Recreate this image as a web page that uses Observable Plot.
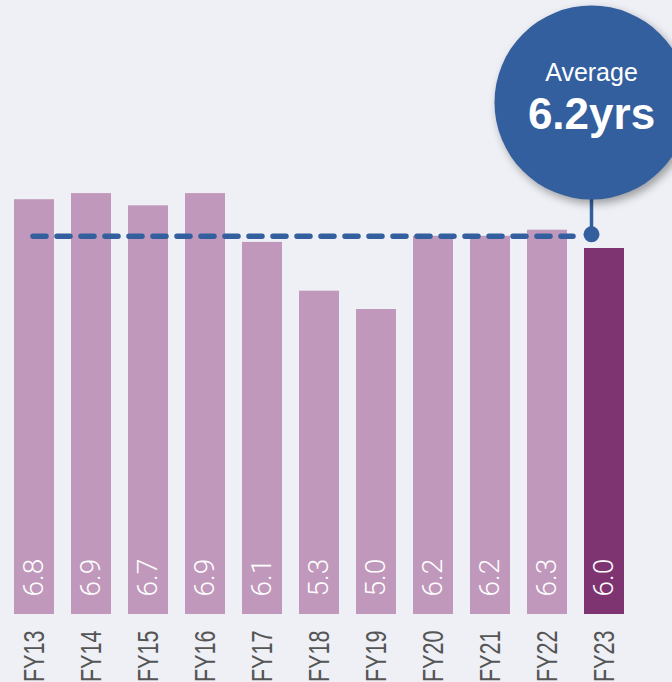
<!DOCTYPE html>
<html>
<head>
<meta charset="utf-8">
<script src="https://cdn.jsdelivr.net/npm/d3@7"></script>
<script src="https://cdn.jsdelivr.net/npm/@observablehq/plot@0.6"></script>
<style>
  html, body { margin: 0; padding: 0; background: #eef0f5; }
  #chart svg { display: block; }
  .avg-bubble circle { filter: drop-shadow(3px 4px 4px rgba(0,0,0,0.35)); }
</style>
</head>
<body>
<div id="chart"></div>
<script>
// ---- data ----
const years = ["FY13","FY14","FY15","FY16","FY17","FY18","FY19","FY20","FY21","FY22","FY23"];
const values = [6.8, 6.9, 6.7, 6.9, 6.1, 5.3, 5.0, 6.2, 6.2, 6.3, 6.0];
const average = 6.2;
const averageLabel = "Average";
const averageValueLabel = "6.2yrs";
const highlightYear = "FY23";

// ---- styles ----
const lightColor = "#bf98bb";
const darkColor = "#7f3472";
const blue = "#335f9e";
const font = "'Liberation Sans', Arial, Helvetica, sans-serif";

const data = years.map((year, i) => ({year, value: values[i]}));

const chart = Plot.plot({
  width: 672,
  height: 682,
  marginLeft: 13,
  marginRight: 48,
  marginTop: 4,
  marginBottom: 68,
  style: {background: "#eef0f5", fontFamily: font, overflow: "hidden"},
  x: {domain: years, paddingInner: 0.3, paddingOuter: 0, axis: null},
  y: {domain: [0, 10], axis: null},
  color: {domain: years, range: years.map(y => y === highlightYear ? darkColor : lightColor)},
  marks: [
    Plot.barY(data, {x: "year", y: "value", fill: "year"}),
    Plot.text(data, {x: "year", y: 0, text: d => d.value.toFixed(1), rotate: -90, textAnchor: "start",
      dy: -18, fill: "white", fontSize: 28, fontFamily: "Roboto, 'Liberation Sans', sans-serif", fontWeight: 300}),
    Plot.text(years, {x: d => d, y: 0, text: d => d, rotate: -90, textAnchor: "end",
      dy: 16, fill: "#555555", fontSize: 30, className: "tick-labels"}),
    Plot.ruleY([average], {x1: () => years[0], x2: () => highlightYear, stroke: blue, strokeWidth: 5.5,
      strokeDasharray: "13,11", strokeLinecap: "round", className: "avg-line"}),
    Plot.ruleX([highlightYear], {x: d => d, y1: average, y2: 9, stroke: blue, strokeWidth: 3.5, dx: -13}),
    Plot.dot([average], {x: () => highlightYear, y: d => d, r: 8, fill: blue, dx: -13, dy: -2}),
    Plot.dot([average], {x: () => highlightYear, frameAnchor: "top", r: 97, fill: blue, stroke: null,
      dx: -13, dy: 98, className: "avg-bubble"}),
    Plot.text([averageLabel], {x: () => highlightYear, frameAnchor: "top", text: d => d, fill: "white",
      fontSize: 25, dx: -13, dy: 59}),
    Plot.text([averageValueLabel], {x: () => highlightYear, frameAnchor: "top", text: d => d, fill: "white",
      fontSize: 44, fontWeight: "bold", dx: -13, dy: 93})
  ]
});

// adjust the dashed average line end points using the plot's own x scale
const xs = chart.scale("x");
const bw = xs.bandwidth;
const lineStart = xs.apply(years[0]) + bw / 2 - 1;
const lineEnd = xs.apply(highlightYear) + bw / 2 - 31;
d3.select(chart).selectAll(".avg-line line").attr("x1", lineStart).attr("x2", lineEnd);

// the reference tick labels are horizontally condensed
d3.select(chart).selectAll(".tick-labels text").attr("transform", function() {
  return (this.getAttribute("transform") || "") + " scale(0.72,1)";
});

document.getElementById("chart").appendChild(chart);
</script>
</body>
</html>
